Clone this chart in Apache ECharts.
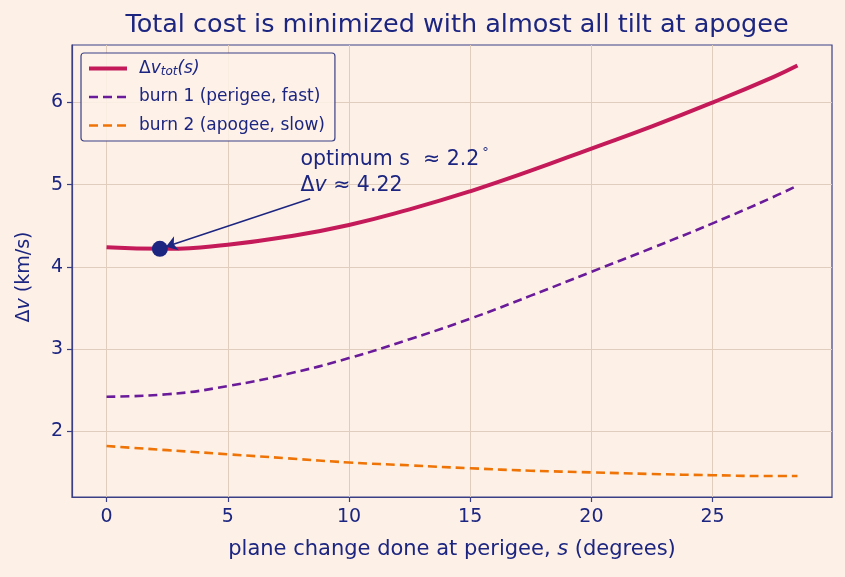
<!DOCTYPE html>
<html>
<head>
<meta charset="utf-8">
<script src="https://cdn.jsdelivr.net/npm/echarts@6/dist/echarts.min.js"></script>
<style>
  html, body { margin: 0; padding: 0; background: #fdf1e7; }
  #chart { width: 845px; height: 577px; }
</style>
</head>
<body>
<div id="chart"></div>
<script>
// plane change at perigee (degrees)
const planeChange = [0, 2.5, 5, 7.5, 10, 12.5, 15, 17.5, 20, 22.5, 25, 27.5, 28.5]
// delta-v values (km/s)
const totalDv = [4.24, 4.22, 4.27, 4.37, 4.51, 4.70, 4.92, 5.17, 5.44, 5.71, 6.00, 6.31, 6.45]
const burn1Dv = [2.42, 2.45, 2.55, 2.70, 2.89, 3.12, 3.37, 3.65, 3.94, 4.23, 4.53, 4.85, 4.99]
const burn2Dv = [1.82, 1.77, 1.72, 1.67, 1.62, 1.585, 1.55, 1.52, 1.50, 1.48, 1.465, 1.455, 1.455]
const optimum = [2.2, 4.22]
const xTicks = [0, 5, 10, 15, 20, 25]
const yTicks = [2, 3, 4, 5, 6]

const navy = '#1c2580'
const frame = '#3b3f86'
const font = 'DejaVu Sans'
const pairs = arr => planeChange.map((s, i) => [s, arr[i]])

const chart = echarts.init(document.getElementById('chart'))
chart.setOption({
  backgroundColor: '#fdf1e7',
  textStyle: { fontFamily: font },
  title: {
    text: 'Total cost is minimized with almost all tilt at apogee',
    left: 452, top: 7, textAlign: 'center',
    textStyle: { color: navy, fontSize: 25.5, fontWeight: 'normal', fontFamily: font }
  },
  grid: {
    left: 72, right: 13, top: 45, bottom: 80,
    show: true, borderColor: frame, borderWidth: 1.2
  },
  legend: {
    orient: 'vertical', left: 81, top: 53,
    padding: [6, 10, 6, 6], itemGap: 9.5,
    itemWidth: 38, itemHeight: 2,
    backgroundColor: 'rgba(253,241,231,0.85)',
    borderColor: frame, borderWidth: 1.2, borderRadius: 3,
    data: [
      { name: 'total', lineStyle: { width: 4 } },
      { name: 'burn 1 (perigee, fast)', lineStyle: { width: 2.6 } },
      { name: 'burn 2 (apogee, slow)', lineStyle: { width: 2.6 } }
    ],
    formatter: name => name === 'total'
      ? '{i|Δ}{iv|v}{sub|tot}{iv|(s)}'
      : name,
    textStyle: {
      color: navy, fontSize: 17, fontFamily: font, lineHeight: 19, padding: [0, 0, 0, 7],
      rich: {
        i: { color: navy, fontSize: 17, fontFamily: font },
        iv: { color: navy, fontSize: 17, fontFamily: font, fontStyle: 'italic' },
        sub: { color: navy, fontSize: 12, fontFamily: font, fontStyle: 'italic', verticalAlign: 'bottom', padding: [7, 0, 0, 0] }
      }
    }
  },
  xAxis: {
    type: 'value', min: -1.425, max: 29.925,
    name: 'plane change done at perigee, {it|s} (degrees)',
    nameLocation: 'middle', nameGap: 42,
    nameTextStyle: {
      color: navy, fontSize: 21, fontFamily: font,
      rich: { it: { color: navy, fontSize: 21, fontFamily: font, fontStyle: 'italic' } }
    },
    axisLine: { show: true, onZero: false, lineStyle: { color: frame, width: 1.2 } },
    axisTick: { show: true, length: 5, customValues: xTicks, lineStyle: { color: frame, width: 1.2 } },
    axisLabel: { customValues: xTicks, color: navy, fontSize: 19, fontFamily: font, margin: 11 },
    splitLine: { show: true, lineStyle: { color: '#e0cdbd', width: 1 } }
  },
  yAxis: {
    type: 'value', min: 1.2, max: 6.7,
    name: 'Δ{it|v} (km/s)',
    nameLocation: 'middle', nameGap: 38,
    nameTextStyle: {
      color: navy, fontSize: 19, fontFamily: font, padding: [0, 12, 0, 0],
      rich: { it: { color: navy, fontSize: 19, fontFamily: font, fontStyle: 'italic' } }
    },
    axisLine: { show: true, onZero: false, lineStyle: { color: frame, width: 1.2 } },
    axisTick: { show: true, length: 5, customValues: yTicks, lineStyle: { color: frame, width: 1.2 } },
    axisLabel: { customValues: yTicks, color: navy, fontSize: 19, fontFamily: font, margin: 9 },
    splitLine: { show: true, lineStyle: { color: '#e0cdbd', width: 1 } }
  },
  series: [
    {
      name: 'total', type: 'line', data: pairs(totalDv),
      smooth: true, showSymbol: false, symbol: 'none',
      lineStyle: { color: '#c41a5a', width: 4 },
      itemStyle: { color: '#c41a5a' },
      z: 3
    },
    {
      name: 'burn 1 (perigee, fast)', type: 'line', data: pairs(burn1Dv),
      smooth: true, showSymbol: false, symbol: 'none',
      lineStyle: { color: '#6a1b9a', width: 2.6, type: [9, 5] },
      itemStyle: { color: '#6a1b9a' }
    },
    {
      name: 'burn 2 (apogee, slow)', type: 'line', data: pairs(burn2Dv),
      smooth: true, showSymbol: false, symbol: 'none',
      lineStyle: { color: '#ef7408', width: 2.6, type: [9, 5] },
      itemStyle: { color: '#ef7408' }
    },
    {
      name: 'optimum', type: 'scatter', data: [optimum],
      symbolSize: 16, itemStyle: { color: navy, opacity: 1 }, z: 4,
      markLine: {
        silent: true, symbol: ['none', 'arrow'], symbolSize: 11, z: 6,
        label: { show: false },
        lineStyle: { color: navy, width: 1.5, type: 'solid' },
        data: [[{ coord: [8.4, 4.83] }, { coord: [2.45, 4.245] }]]
      },
      markPoint: {
        silent: true, symbol: 'circle', symbolSize: 0,
        label: {
          show: true, position: 'right', distance: 0,
          formatter: '{a|optimum s  ≈ 2.2}{sup|°}\n{a|Δ}{it|v}{a| ≈ 4.22}',
          rich: {
            a: { color: navy, fontSize: 20.5, fontFamily: font, lineHeight: 26 },
            it: { color: navy, fontSize: 20.5, fontFamily: font, fontStyle: 'italic', lineHeight: 26 },
            sup: { color: navy, fontSize: 13, fontFamily: font, verticalAlign: 'top', padding: [0, 0, 10, 3] }
          }
        },
        data: [{ coord: [8.0, 5.15] }]
      }
    }
  ]
})
</script>
</body>
</html>
